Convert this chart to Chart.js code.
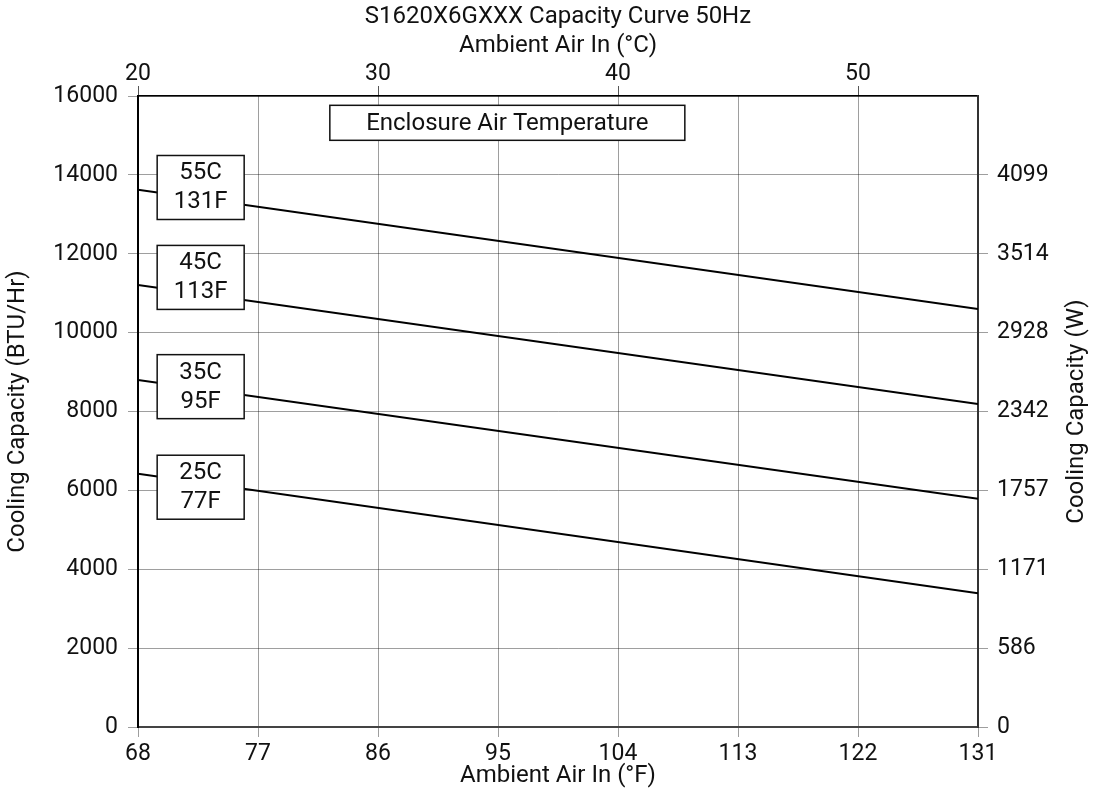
<!DOCTYPE html>
<html>
<head>
<meta charset="utf-8">
<script src="https://cdn.jsdelivr.net/npm/chart.js@4"></script>
<style>
  html, body { margin: 0; padding: 0; background: #fff; }
  #wrap { width: 1095px; height: 800px; }
</style>
</head>
<body>
<div id="wrap"><canvas id="capChart"></canvas></div>
<script>
// Ambient air (°F) at the two ends of each curve
const ambientF = [68, 131];

// Cooling capacity (BTU/Hr) per enclosure air temperature
const cap55C = [13620, 10600];
const cap45C = [11210, 8190];
const cap35C = [8800, 5790];
const cap25C = [6420, 3390];

const curveNames = ["55C", "45C", "35C", "25C"];
const curveNamesF = ["131F", "113F", "95F", "77F"];

// tick labels
const fTicks = [68, 77, 86, 95, 104, 113, 122, 131];
const cTicks = [20, 30, 40, 50];
const btuTicks = [0, 2000, 4000, 6000, 8000, 10000, 12000, 14000, 16000];
const wattTickValues = [0, 2000, 4000, 6000, 8000, 10000, 12000, 14000];
const wattTickLabels = ["0", "586", "1171", "1757", "2342", "2928", "3514", "4099"];

const FONT = "Roboto";
const INK = "#111";
const GRID = "rgba(0,0,0,0.38)";
const TXT = { size: 24, lineHeight: 1.2 };
const TICK = { size: 23, lineHeight: 1 };

Chart.defaults.font.family = FONT;
Chart.defaults.font.size = 23;
Chart.defaults.color = INK;

// Boxed labels and the right-hand axis title
const boxLabels = {
    id: "boxLabels",
    afterDatasetsDraw(chart, args, opts) {
        const ctx = chart.ctx;
        const x = chart.scales.x;
        const y = chart.scales.y;
        const area = chart.chartArea;
        ctx.save();
        ctx.font = "24px " + FONT;
        ctx.textAlign = "center";
        ctx.textBaseline = "middle";
        ctx.lineWidth = 1.5;
        ctx.strokeStyle = "#111";

        // curve tags
        opts.tags.forEach((t, i) => {
            const cx = x.getPixelForValue(opts.tagX);
            const cy = y.getPixelForValue(t);
            const w = 87, h = 64;
            ctx.fillStyle = "#fff";
            ctx.fillRect(cx - w / 2, cy - h / 2, w, h);
            ctx.strokeRect(cx - w / 2, cy - h / 2, w, h);
            ctx.fillStyle = INK;
            ctx.fillText(curveNames[i], cx, cy - 14);
            ctx.fillText(curveNamesF[i], cx, cy + 15);
        });

        // heading box
        const hx = x.getPixelForValue(opts.headX);
        const hy = y.getPixelForValue(opts.headY);
        const hw = 355, hh = 35;
        ctx.fillStyle = "#fff";
        ctx.fillRect(hx - hw / 2, hy - hh / 2, hw, hh);
        ctx.strokeRect(hx - hw / 2, hy - hh / 2, hw, hh);
        ctx.fillStyle = INK;
        ctx.fillText("Enclosure Air Temperature", hx, hy + 1);

        // right axis title, reading bottom to top like the left one
        ctx.translate(opts.rightTitleX, (area.top + area.bottom) / 2);
        ctx.rotate(-Math.PI / 2);
        ctx.fillText("Cooling Capacity (W)", 0, 0);
        ctx.restore();
    }
};

function curve(values) {
    return {
        data: ambientF.map((f, i) => ({ x: f, y: values[i] })),
        borderColor: "#000",
        borderWidth: 2,
        pointRadius: 0,
        fill: false
    };
}

const ctx = document.getElementById("capChart").getContext("2d");
new Chart(ctx, {
    type: "line",
    data: {
        datasets: [curve(cap55C), curve(cap45C), curve(cap35C), curve(cap25C)]
    },
    plugins: [boxLabels],
    options: {
        responsive: true,
        maintainAspectRatio: false,
        animation: false,
        layout: { padding: 0 },
        plugins: {
            legend: { display: false },
            tooltip: { enabled: false },
            boxLabels: {
                tagX: 72.7,
                tags: [13680, 11400, 8630, 6080],
                headX: 95.7,
                headY: 15320,
                rightTitleX: 1077
            }
        },
        scales: {
            x: {
                type: "linear",
                position: "bottom",
                min: 68,
                max: 131,
                afterBuildTicks: s => { s.ticks = fTicks.map(v => ({ value: v })); },
                afterFit: s => { s.height = 73; },
                ticks: { padding: 6, maxRotation: 0, font: TICK },
                grid: { color: GRID, tickLength: 10 },
                border: { color: "#444", width: 2 },
                title: {
                    display: true,
                    text: "Ambient Air In (°F)",
                    font: TXT,
                    padding: { top: 0, bottom: 10 }
                }
            },
            x2: {
                type: "linear",
                position: "top",
                min: 20,
                max: 55,
                afterBuildTicks: s => { s.ticks = cTicks.map(v => ({ value: v })); },
                afterFit: s => { s.height = 96; },
                ticks: { padding: 0, maxRotation: 0, font: TICK },
                grid: { drawOnChartArea: false, color: "#555", tickLength: 10 },
                border: { color: "#000", width: 1.5 },
                title: {
                    display: true,
                    text: ["S1620X6GXXX Capacity Curve 50Hz", "Ambient Air In (°C)"],
                    font: TXT,
                    padding: { top: 3, bottom: 0 }
                }
            },
            y: {
                type: "linear",
                position: "left",
                min: 0,
                max: 16000,
                afterBuildTicks: s => { s.ticks = btuTicks.map(v => ({ value: v })); },
                afterFit: s => { s.width = 138; },
                ticks: { padding: 10, font: TICK, callback: v => String(v) },
                grid: { color: GRID, tickLength: 10 },
                border: { color: "#000", width: 2 },
                title: {
                    display: true,
                    text: "Cooling Capacity (BTU/Hr)",
                    font: TXT,
                    padding: { top: 4, bottom: 0 }
                }
            },
            y2: {
                type: "linear",
                position: "right",
                min: 0,
                max: 16000,
                afterBuildTicks: s => { s.ticks = wattTickValues.map(v => ({ value: v })); },
                afterFit: s => { s.width = 117; },
                ticks: {
                    padding: 9,
                    font: TICK,
                    callback: (value, index) => wattTickLabels[index]
                },
                grid: { drawOnChartArea: false, color: GRID, tickLength: 10 },
                border: { color: "#333", width: 2 },
                title: { display: false }
            }
        }
    }
});
</script>
</body>
</html>
